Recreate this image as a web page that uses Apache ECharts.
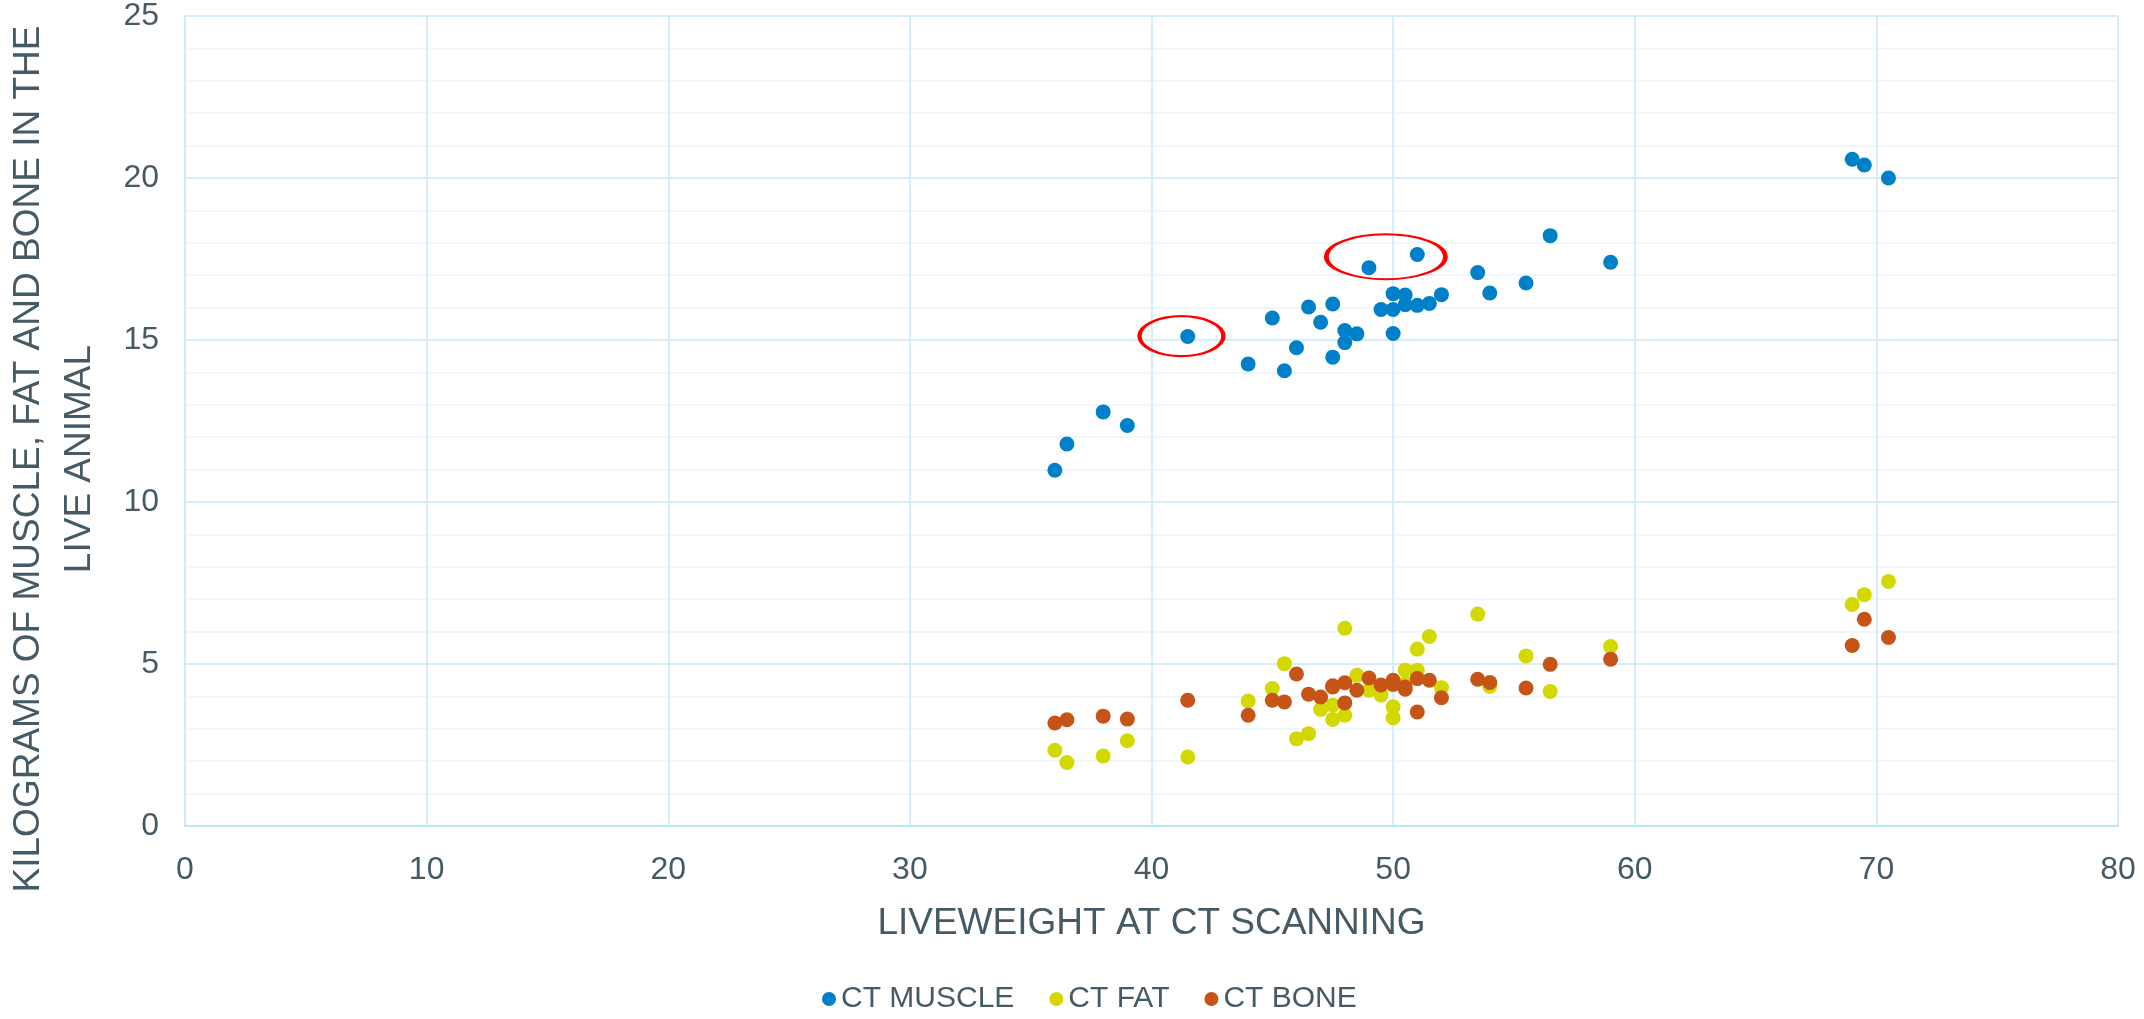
<!DOCTYPE html>
<html>
<head>
<meta charset="utf-8">
<script src="https://cdn.jsdelivr.net/npm/echarts@6/dist/echarts.min.js"></script>
<style>
  html, body { margin: 0; padding: 0; background: #fff; }
</style>
</head>
<body>
<div id="main" style="width: 2144px;height:1019px;"></div>
<script type="text/javascript">
    // liveweight at CT scanning (kg), one entry per animal
    var liveweight = [36, 36.5, 38, 39, 41.5, 44, 45, 45.5, 46, 46.5, 47, 47.5, 47.5, 48, 48, 48.5, 49, 49.5,
        50, 50, 50, 50.5, 50.5, 51, 51, 51.5, 52, 53.5, 54, 55.5, 56.5, 59, 69, 69.5, 70.5];
    var ctMuscle = [10.98, 11.79, 12.78, 12.36, 15.11, 14.26, 15.68, 14.05, 14.76, 16.02, 15.55, 16.11, 14.47,
        15.29, 14.92, 15.19, 17.23, 15.94, 16.43, 15.94, 15.20, 16.39, 16.09, 17.64, 16.07, 16.13, 16.40,
        17.08, 16.45, 16.76, 18.22, 17.40, 20.58, 20.40, 20.00];
    var ctFat = [2.34, 1.96, 2.16, 2.63, 2.13, 3.86, 4.24, 5.01, 2.69, 2.85, 3.60, 3.73, 3.29,
        6.10, 3.42, 4.65, 4.19, 4.04, 3.68, 3.34, 4.35, 4.81, 4.40, 4.81, 5.46, 5.85, 4.27,
        6.54, 4.31, 5.25, 4.15, 5.54, 6.84, 7.14, 7.55];
    var ctBone = [3.18, 3.28, 3.39, 3.30, 3.88, 3.42, 3.88, 3.83, 4.69, 4.07, 3.98, 4.29, 4.33,
        4.42, 3.80, 4.19, 4.57, 4.35, 4.50, 4.42, 4.38, 4.29, 4.22, 4.55, 3.52, 4.50, 3.96,
        4.53, 4.43, 4.26, 4.99, 5.15, 5.57, 6.38, 5.82];
    var seriesNames = ['CT MUSCLE', 'CT FAT', 'CT BONE'];
    // red rings drawn round the outliers (centre in data units)
    var ringCentres = [[41.24, 15.12], [49.7, 17.57]];
    var ringSizes = [[84, 40], [119, 45]];

    var textColor = '#465a65';
    var font = 'Liberation Sans, Arial, sans-serif';

    function pairs(ys) {
        var out = [];
        for (var i = 0; i < liveweight.length; i++) {
            out.push([liveweight[i], ys[i]]);
        }
        return out;
    }

    var myChart = echarts.init(document.getElementById('main'));

    var rings = [];
    for (var k = 0; k < ringCentres.length; k++) {
        rings.push({ value: ringCentres[k], symbolSize: ringSizes[k] });
    }

    var option = {
        backgroundColor: '#ffffff',
        animation: false,
        textStyle: { fontFamily: font },
        grid: { left: 185, right: 26, top: 16, bottom: 193, containLabel: false, outerBoundsMode: 'none' },
        legend: {
            data: seriesNames,
            top: 979,
            left: 817,
            icon: 'circle',
            itemWidth: 14,
            itemHeight: 14,
            itemGap: 35,
            textStyle: { color: textColor, fontSize: 30, fontFamily: font }
        },
        xAxis: {
            type: 'value',
            min: 0,
            max: 80,
            interval: 10,
            name: 'LIVEWEIGHT AT CT SCANNING',
            nameLocation: 'middle',
            nameGap: 79,
            nameTextStyle: { color: textColor, fontSize: 37, fontFamily: font },
            axisLine: { show: true, lineStyle: { color: '#bfe3fa', width: 2 } },
            axisTick: { show: false },
            axisLabel: { color: textColor, fontSize: 32, margin: 28, fontFamily: font },
            splitLine: { show: true, lineStyle: { color: '#d6edfb', width: 2 } }
        },
        yAxis: {
            type: 'value',
            min: 0,
            max: 25,
            interval: 5,
            name: 'KILOGRAMS OF MUSCLE, FAT AND BONE IN THE\nLIVE ANIMAL',
            nameLocation: 'middle',
            nameRotate: 90,
            nameGap: 80,
            nameTextStyle: { color: textColor, fontSize: 37, lineHeight: 51, fontFamily: font, padding: [0, 76, 0, 0] },
            axisLine: { show: true, lineStyle: { color: '#cfeafb', width: 2 } },
            axisTick: { show: false },
            axisLabel: { color: textColor, fontSize: 32, margin: 26, fontFamily: font },
            splitLine: { show: true, lineStyle: { color: '#d6edfb', width: 2 } },
            minorTick: { show: false, splitNumber: 5 },
            minorSplitLine: { show: true, lineStyle: { color: '#eef7fd', width: 2 } }
        },
        series: [
            {
                name: seriesNames[0],
                type: 'scatter',
                symbolSize: 15,
                itemStyle: { color: '#0080c8', opacity: 1 },
                data: pairs(ctMuscle)
            },
            {
                name: seriesNames[1],
                type: 'scatter',
                symbolSize: 15,
                itemStyle: { color: '#d3d800', opacity: 1 },
                data: pairs(ctFat)
            },
            {
                name: seriesNames[2],
                type: 'scatter',
                symbolSize: 15,
                itemStyle: { color: '#c55416', opacity: 1 },
                data: pairs(ctBone)
            },
            {
                name: 'rings',
                type: 'scatter',
                silent: true,
                symbol: 'circle',
                itemStyle: { color: 'rgba(0,0,0,0)', borderColor: '#ff0000', borderWidth: 3, opacity: 1 },
                data: rings
            }
        ]
    };

    myChart.setOption(option);
</script>
</body>
</html>
